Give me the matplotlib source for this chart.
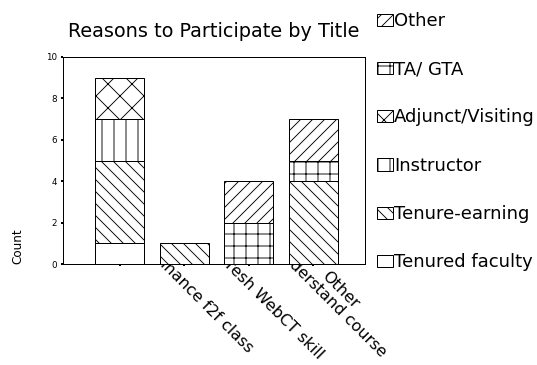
import matplotlib
matplotlib.use("Agg")
import matplotlib.pyplot as plt
from matplotlib.patches import Patch
from matplotlib.transforms import ScaledTranslation
import numpy as np

# ---- data ----
categories = ["", "Enhance f2f class", "Refresh WebCT skill", "Other\nUnderstand course"]
series_names = ["Tenured faculty", "Tenure-earning", "Instructor",
                "Adjunct/Visiting", "TA/ GTA", "Other"]
tenured_faculty = [1, 0, 0, 0]
tenure_earning = [4, 1, 0, 4]
instructor = [2, 0, 0, 0]
adjunct_visiting = [2, 0, 0, 0]
ta_gta = [0, 0, 2, 1]
other = [0, 0, 2, 2]
y_ticks = [0, 2, 4, 6, 8, 10]

series_values = [tenured_faculty, tenure_earning, instructor,
                 adjunct_visiting, ta_gta, other]
hatches = ["", "\\\\", "|", "x", "+", "//"]

plt.rcParams["font.family"] = ["DejaVu Sans"]
plt.rcParams["hatch.linewidth"] = 0.9
plt.rcParams["hatch.color"] = "black"

W, H = 537, 365
fig = plt.figure(figsize=(W / 72, H / 72), dpi=72)
fig.patch.set_facecolor("white")
ax = fig.add_axes([63 / W, 1 - 264 / H, (365 - 63) / W, (264 - 57) / H])

x = np.arange(len(categories))
bottom = np.zeros(len(categories))
handles = []
for name, vals, h in zip(series_names, series_values, hatches):
    vals = np.array(vals, dtype=float)
    bars = ax.bar(x, vals, width=0.76, bottom=bottom, color="white",
                  edgecolor="black", linewidth=1.0, hatch=h, label=name)
    for b, v in zip(bars, vals):
        if v == 0:
            b.set_visible(False)
    handles.append(Patch(facecolor="white", edgecolor="black", linewidth=1.0,
                         hatch=h, label=name))
    bottom += vals

ax.set_xlim(-0.884, 3.8)
ax.set_ylim(0, 10)
ax.set_yticks(y_ticks)
ax.set_yticklabels([str(t) for t in y_ticks])
ax.set_xticks(x)
ax.set_xticklabels([])
ax.tick_params(axis="y", length=2, width=2, labelsize=8.7, pad=4, color="black")
ax.tick_params(axis="x", length=2, width=2, color="black")
for s in ax.spines.values():
    s.set_linewidth(1.0)
    s.set_color("black")

ax.set_title("Reasons to Participate by Title", fontsize=19.2, pad=20)
ax.set_ylabel("Count", fontsize=12, loc="bottom", labelpad=22)

# category labels, partially hidden behind the plot area
trans = ax.get_xaxis_transform() + ScaledTranslation(11 / 72, -42 / 72, fig.dpi_scale_trans)
for i, lab in enumerate(categories):
    fig.text(x[i], 0, lab, transform=trans, rotation=-45, rotation_mode="anchor",
             ha="center", va="bottom", multialignment="center", fontsize=16,
             linespacing=1.0, zorder=-1)

leg = fig.legend(handles[::-1], series_names[::-1], loc="upper left",
                 bbox_to_anchor=(377 / W, 1 - 12 / H), frameon=False, fontsize=18,
                 handlelength=16 / 18, handleheight=12 / 18, handletextpad=0.05,
                 labelspacing=1.68, borderpad=0, borderaxespad=0)

fig.savefig("out.png", dpi=72, facecolor="white")
